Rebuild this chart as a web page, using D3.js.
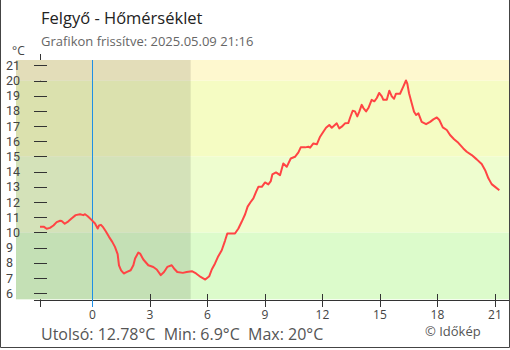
<!DOCTYPE html>
<html>
<head>
<meta charset="utf-8">
<script src="https://cdn.jsdelivr.net/npm/d3@7"></script>
<style>
  html, body { margin: 0; padding: 0; background: #fff; }
  svg { display: block; font-family: "Open Sans", "Noto Sans", sans-serif; }
  .ylab { font-family: Roboto, "Open Sans", sans-serif; }
</style>
</head>
<body>
<svg id="chart" width="510" height="350"></svg>
<script>
// Hours relative to midnight of 2025.05.09 (negative = previous evening)
const hours = [-2.73,-2.52,-2.38,-2.21,-2.03,-1.86,-1.68,-1.60,-1.44,-1.25,-1.07,-0.87,-0.64,-0.47,-0.38,-0.24,-0.03,
  0.14,0.28,0.35,0.45,0.57,0.70,0.87,1.04,1.18,1.32,1.39,1.50,1.64,1.81,2.00,2.14,2.23,2.40,2.49,2.66,2.92,
  3.18,3.36,3.57,3.74,3.91,4.14,4.26,4.43,4.72,4.92,5.19,5.41,5.65,5.89,6.10,6.23,6.40,6.57,6.75,6.92,7.04,
  7.22,7.44,7.62,7.79,7.97,8.10,8.24,8.40,8.54,8.66,8.84,9.01,9.18,9.31,9.39,9.58,9.79,9.96,10.14,10.35,
  10.57,10.75,10.87,11.10,11.27,11.36,11.53,11.71,11.88,12.05,12.19,12.36,12.49,12.75,12.88,13.01,13.18,
  13.35,13.44,13.58,13.70,13.82,13.93,14.05,14.14,14.28,14.40,14.57,14.71,14.84,14.96,15.10,15.18,15.36,
  15.49,15.62,15.74,15.84,16.05,16.22,16.36,16.43,16.52,16.66,16.78,16.89,17.01,17.18,17.41,17.62,17.79,
  17.97,18.10,18.28,18.49,18.66,18.87,19.09,19.35,19.53,19.79,20.05,20.31,20.49,20.66,20.83,21.01,21.23];
const temps = [10.37,10.37,10.24,10.30,10.46,10.68,10.77,10.75,10.57,10.73,10.94,11.14,11.20,11.14,11.20,11.07,10.81,
  10.59,10.26,10.46,10.50,10.33,10.08,9.71,9.38,9.05,8.57,7.84,7.51,7.30,7.40,7.51,7.84,8.29,8.68,8.61,8.22,7.84,
  7.73,7.56,7.19,7.40,7.73,7.84,7.63,7.40,7.34,7.40,7.45,7.30,7.07,6.90,7.12,7.56,7.96,8.44,8.83,9.45,9.93,
  9.93,9.93,10.26,10.70,11.20,11.70,11.97,12.24,12.67,13.00,13.00,13.29,13.16,13.38,13.82,13.95,13.77,14.54,14.32,14.87,
  14.98,15.27,15.60,15.60,15.64,15.58,15.86,15.80,16.30,16.63,16.89,17.07,16.89,17.18,16.85,16.96,17.18,
  17.20,17.53,18.01,17.97,17.64,17.97,18.40,18.19,17.97,18.19,18.73,18.63,18.85,19.18,18.96,18.73,18.73,
  19.33,18.96,18.80,19.13,19.13,19.60,20.00,19.80,19.16,18.50,17.94,17.73,17.84,17.28,17.13,17.28,17.44,
  17.57,17.40,16.92,16.74,16.41,16.13,15.90,15.53,15.31,15.09,14.81,14.50,14.10,13.56,13.18,13.00,12.78];

const xTicks = [0, 3, 6, 9, 12, 15, 18, 21];
const yTicks = [6, 7, 8, 9, 10, 11, 12, 13, 14, 15, 16, 17, 18, 19, 20, 21];
// Temperature bands and their fill colours
const bandEdges = [5.6, 10, 15, 20, 21.35];
const bandColors = ["#dcfbcb", "#eefdcf", "#f5fcc3", "#fef8cf"];
const sunrise = 5.13;
const title = "Felgyő - Hőmérséklet";
const subtitle = "Grafikon frissítve: 2025.05.09 21:16";
const summary = "Utolsó: 12.78°C  Min: 6.9°C  Max: 20°C";

const svg = d3.select("#chart");
const plotL = 16, plotR = 509;

const x = d3.scaleLinear().domain([-2.73, 21.27]).range([40, 500.1]);
const y = d3.scaleLinear().domain([5.6, 21.35]).range([299.3, 60]);

// y axis spine (mostly hidden under the bands)
svg.append("line").attr("x1", 40.5).attr("x2", 40.5).attr("y1", 54).attr("y2", 307)
  .attr("stroke", "#333");

// temperature bands
svg.append("g").selectAll("rect").data(bandColors).join("rect")
  .attr("x", plotL).attr("width", plotR - plotL)
  .attr("y", (d, i) => y(bandEdges[i + 1]))
  .attr("height", (d, i) => y(bandEdges[i]) - y(bandEdges[i + 1]))
  .attr("fill", d => d);

// night shading up to sunrise
svg.append("rect").attr("x", plotL).attr("y", y(21.35))
  .attr("width", x(sunrise) - plotL).attr("height", y(5.6) - y(21.35))
  .attr("fill", "#000").attr("fill-opacity", 0.105);

// x axis line and ticks
svg.append("line").attr("x1", 34).attr("x2", plotR).attr("y1", 300.5).attr("y2", 300.5)
  .attr("stroke", "#333");
svg.append("g").selectAll("line").data(xTicks).join("line")
  .attr("x1", d => Math.round(x(d)) + 0.5).attr("x2", d => Math.round(x(d)) + 0.5)
  .attr("y1", 294).attr("y2", 307).attr("stroke", "#333");
svg.append("g").selectAll("text").data(xTicks).join("text")
  .attr("x", d => x(d)).attr("y", 319).attr("text-anchor", "middle")
  .attr("font-size", 12).attr("fill", "#444").text(d => d);

// y ticks and labels
svg.append("g").selectAll("line").data(yTicks).join("line")
  .attr("x1", 34).attr("x2", 47)
  .attr("y1", d => Math.round(y(d)) + 0.5).attr("y2", d => Math.round(y(d)) + 0.5)
  .attr("stroke", "#333");
svg.append("g").selectAll("text").data(yTicks).join("text")
  .attr("class", "ylab")
  .attr("x", 6).attr("y", d => y(d)).attr("dy", "0.36em")
  .attr("font-size", 12.5).attr("fill", "#444").text(d => d);
svg.append("text").attr("x", 12).attr("y", 55).attr("font-size", 12).attr("fill", "#444").text("°C");

// midnight marker
svg.append("line").attr("x1", Math.round(x(0)) + 0.5).attr("x2", Math.round(x(0)) + 0.5)
  .attr("y1", 60).attr("y2", 307).attr("stroke", "#1f8fe6");

// temperature line
const line = d3.line().x((d, i) => x(hours[i])).y(d => y(d));
svg.append("path").datum(temps).attr("d", line)
  .attr("fill", "none").attr("stroke", "#ff4444").attr("stroke-width", 2)
  .attr("stroke-linejoin", "round");

// titles
svg.append("text").attr("x", 41).attr("y", 24).attr("font-size", 16.5).attr("fill", "#222").text(title);
svg.append("text").attr("x", 41).attr("y", 46).attr("font-size", 13).attr("fill", "#666").text(subtitle);
svg.append("text").attr("x", 41).attr("y", 340).attr("font-size", 16).attr("fill", "#555")
  .attr("xml:space", "preserve").style("white-space", "pre").text(summary);
svg.append("text").attr("x", 425).attr("y", 336).attr("font-size", 13).attr("fill", "#555").text("© Időkép");

// frame
svg.append("path").attr("d", `M0.5,0 V347.5 H509.5 V0`).attr("fill", "none").attr("stroke", "#444");
</script>
</body>
</html>
